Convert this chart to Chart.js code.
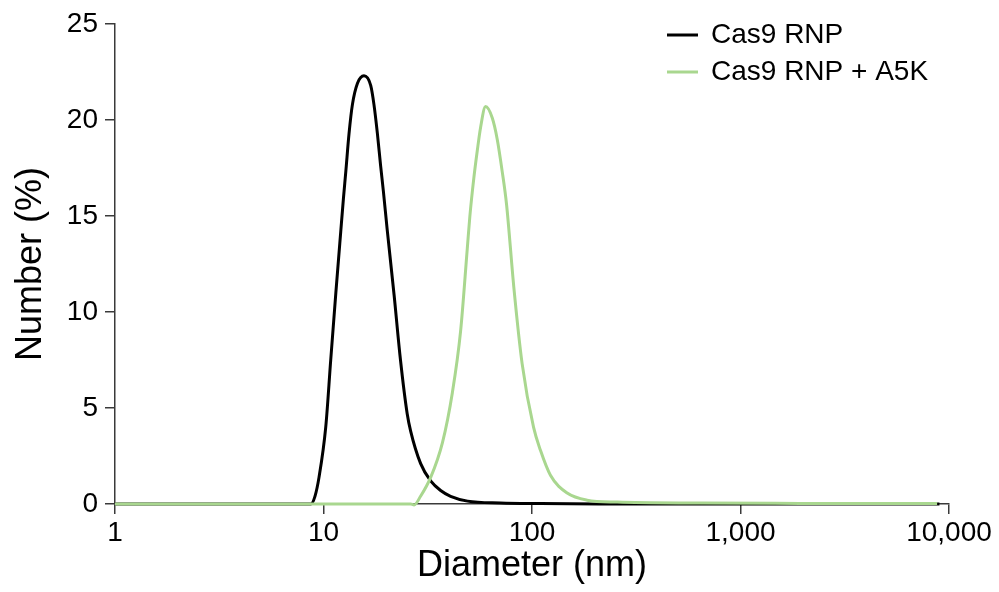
<!DOCTYPE html>
<html><head><meta charset="utf-8">
<script src="https://cdn.jsdelivr.net/npm/chart.js@4"></script>
<style>html,body{margin:0;padding:0;background:#fff;}canvas{display:block;}</style>
</head><body>
<canvas id="c" width="999" height="592"></canvas>
<script>
const seriesLabels = ['Cas9 RNP', 'Cas9 RNP + A5K'];
const cas9Diameter = [1, 5, 8.69, 9.1, 9.52, 10.25, 10.83, 11.46, 12.10, 12.46, 12.79, 13.26, 13.76, 14.54, 15.64, 16.84, 17.46, 18.13, 18.80, 19.37, 20.2, 21.8, 23.4, 25.2, 26.18, 29.24, 32.65, 36.45, 40.7, 49.1, 70.6, 110, 213, 9000];
const cas9Number   = [0, 0, 0, 0.4, 1.4, 4.0, 7.5, 11.0, 14.2, 15.9, 17.3, 19.3, 20.8, 21.9, 22.3, 21.8, 20.8, 19.3, 17.6, 16.3, 14.3, 10.9, 7.5, 4.7, 3.8, 2.1, 1.2, 0.7, 0.4, 0.15, 0.05, 0.02, 0, 0];
const a5kDiameter = [1, 10, 26.2, 27.2, 29.2, 32.7, 37.2, 41.5, 45.45, 48.93, 50.36, 52.63, 54.64, 56.65, 59.9, 64.5, 68.1, 72.0, 75.5, 81.8, 89.7, 101.7, 109.8, 122.6, 147.5, 183.8, 256, 641, 1932, 8770];
const a5kNumber   = [0, 0, 0, -0.05, 0.4, 1.4, 3.2, 5.8, 9.0, 13.3, 15.0, 17.0, 18.4, 19.6, 20.7, 20.1, 19.0, 17.3, 15.6, 11.3, 7.3, 4.0, 2.8, 1.5, 0.57, 0.2, 0.1, 0.05, 0.03, 0.02];
const xTickValues = [1, 10, 100, 1000, 10000];
const yTickValues = [0, 5, 10, 15, 20, 25];
const xTitle = 'Diameter (nm)';
const yTitle = 'Number (%)';

const FONT = '"Liberation Sans", Arial, sans-serif';
const AXIS = '#3a3a3a';
const seriesColors = ['#000000', '#a9d78f'];

const pts = (xs, ys) => xs.map((x, i) => ({x: x, y: ys[i]}));

const legendPlugin = {
  id: 'customLegend',
  afterDraw(chart) {
    const ctx = chart.ctx;
    ctx.save();
    chart.data.datasets.forEach((ds, i) => {
      const y = 35 + i * 37;
      ctx.strokeStyle = ds.borderColor;
      ctx.lineWidth = 3;
      ctx.beginPath(); ctx.moveTo(667, y); ctx.lineTo(698, y); ctx.stroke();
      ctx.fillStyle = '#000';
      ctx.font = '28px ' + FONT;
      ctx.textBaseline = 'middle';
      ctx.textAlign = 'left';
      ctx.fillText(ds.label, 711, y);
    });
    ctx.restore();
  }
};

new Chart(document.getElementById('c'), {
  type: 'line',
  data: {
    datasets: [
      {label: seriesLabels[0], data: pts(cas9Diameter, cas9Number), borderColor: seriesColors[0], borderWidth: 3, pointRadius: 0, cubicInterpolationMode: 'monotone', fill: false, clip: false, order: 2},
      {label: seriesLabels[1], data: pts(a5kDiameter, a5kNumber), borderColor: seriesColors[1], borderWidth: 3, pointRadius: 0, cubicInterpolationMode: 'monotone', fill: false, clip: false, order: 1}
    ]
  },
  options: {
    responsive: false,
    animation: false,
    devicePixelRatio: 1,
    layout: {padding: {top: 24, right: 50, left: 0, bottom: 0}},
    plugins: {legend: {display: false}, tooltip: {enabled: false}},
    scales: {
      x: {
        type: 'logarithmic', min: 1, max: 10000,
        afterBuildTicks: s => { s.ticks = xTickValues.map(v => ({value: v})); },
        afterFit: s => { s.height = 88; },
        ticks: {autoSkip: false, maxRotation: 0, color: '#000', font: {family: FONT, size: 28}, padding: 2,
          callback: v => Number(v).toLocaleString('en-US')},
        grid: {drawOnChartArea: false, drawTicks: true, tickLength: 10, color: AXIS, lineWidth: 1.5},
        border: {display: true, color: AXIS, width: 1.5},
        title: {display: true, text: xTitle, color: '#000', font: {family: FONT, size: 36}, padding: {top: 0, bottom: 4}}
      },
      y: {
        type: 'linear', min: 0, max: 25,
        afterBuildTicks: s => { s.ticks = yTickValues.map(v => ({value: v})); },
        afterFit: s => { s.width = 115; },
        ticks: {color: '#000', font: {family: FONT, size: 28}, padding: 7},
        grid: {drawOnChartArea: false, drawTicks: true, tickLength: 10, color: AXIS, lineWidth: 1.5},
        border: {display: true, color: AXIS, width: 1.5},
        title: {display: true, text: yTitle, color: '#000', font: {family: FONT, size: 36}, padding: {top: 9, bottom: 0}}
      }
    }
  },
  plugins: [legendPlugin]
});
</script>
</body></html>
